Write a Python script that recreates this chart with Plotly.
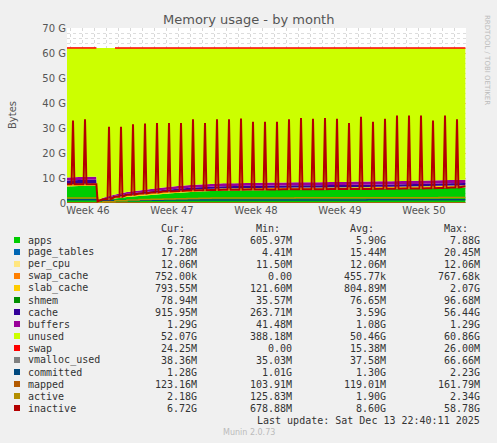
import plotly.graph_objects as go
import numpy as np

# time in days from start of graph
times = [0, 1, 2, 2.45, 2.55] + list(range(3, 33)) + [33.2]
apps = [6.6, 6.8, 6.9, 6.9, 0.5, 1.0, 1.8, 2.4, 2.8, 3.2, 3.6, 4.0, 4.3, 4.6, 4.8, 5.0,
        5.0, 5.1, 5.1, 5.2, 5.2, 5.3, 5.3, 5.3, 5.4, 5.4, 5.5, 5.5, 5.6, 5.6, 5.7, 5.8, 5.9, 6.0, 6.1, 6.2]
slab = [0.8, 0.8, 0.8, 0.8, 0.12, 0.3, 0.45, 0.55, 0.6, 0.65, 0.7, 0.72, 0.74, 0.75, 0.76, 0.77,
        0.78, 0.78, 0.79, 0.79, 0.8, 0.8, 0.8, 0.8, 0.8, 0.8, 0.8, 0.8, 0.8, 0.8, 0.8, 0.8, 0.8, 0.8, 0.8, 0.8]
cache = [1.5, 1.5, 1.5, 1.5, 0.26, 0.4, 0.5, 0.6, 0.7, 0.75, 0.8, 0.82, 0.84, 0.85, 0.86, 0.87,
         0.88, 0.88, 0.89, 0.89, 0.9, 0.9, 0.9, 0.9, 0.9, 0.9, 0.9, 0.9, 0.9, 0.9, 0.9, 0.9, 0.92, 0.92, 0.92, 0.92]
buffers = [1.2, 1.2, 1.2, 1.2, 0.04, 0.3, 0.5, 0.7, 0.8, 0.9, 1.0, 1.05, 1.1, 1.1, 1.12, 1.15,
           1.15, 1.17, 1.18, 1.2, 1.2, 1.2, 1.22, 1.22, 1.23, 1.24, 1.25, 1.25, 1.26, 1.27, 1.27, 1.28, 1.28, 1.29, 1.29, 1.29]
page_tables = 0.017
per_cpu = 0.012
swap_cache = 0.0007
shmem = 0.079
swap = [0.025, 0.025, 0.025, 0.025, 0, 0, 0.02, 0.02, 0.02, 0.02, 0.02, 0.02, 0.02, 0.02, 0.02, 0.02,
        0.024, 0.024, 0.024, 0.024, 0.024, 0.024, 0.024, 0.024, 0.024, 0.024, 0.024, 0.024, 0.024, 0.024, 0.024, 0.024, 0.024, 0.024, 0.024, 0.024]
total_mem = 62.0
committed = [1.3, 1.3, 1.3, 1.3, 1.0, 1.0, 1.0, 1.05, 1.1, 1.1, 1.2, 1.2, 1.2, 1.25, 1.25, 1.25,
             1.25, 1.25, 1.25, 1.25, 1.25, 1.25, 1.25, 1.25, 1.25, 1.25, 1.25, 1.28, 1.28, 1.28, 1.28, 1.28, 1.28, 1.28, 1.28, 1.28]
active = [2.0, 2.0, 2.0, 2.0, 0.13, 0.5, 0.9, 1.2, 1.4, 1.5, 1.6, 1.7, 1.8, 1.9, 2.0, 2.0,
          2.0, 2.0, 2.0, 2.0, 2.0, 2.1, 2.1, 2.1, 2.1, 2.1, 2.1, 2.1, 2.1, 2.1, 2.15, 2.15, 2.15, 2.18, 2.18, 2.18]
mapped = 0.12
vmalloc = 0.038
inactive_base = [7.5, 7.5, 7.5, 7.5, 0.7, 1.5, 2.5, 3.3, 3.8, 4.2, 4.6, 4.8, 5.0, 5.1, 5.2, 5.3,
                 5.3, 5.4, 5.4, 5.4, 5.5, 5.5, 5.5, 5.5, 5.6, 5.6, 5.6, 5.6, 5.7, 5.7, 5.8, 5.8, 5.9, 6.0, 6.2, 6.7]
peak_days = [0, 1] + list(range(3, 33))
peak_vals = [33, 33.5, 30.5, 30.5, 31.5, 31.8, 32, 32, 32, 33.5, 32, 33.5, 33.5, 33.8, 32.5, 32.5,
             32.5, 33.5, 34, 33.7, 34, 33.7, 32, 34.5, 32.5, 33.7, 35, 35, 35, 33, 35, 33.5]

week_labels = ["Week 46", "Week 47", "Week 48", "Week 49", "Week 50"]
week_pos = [1.75, 8.75, 15.75, 22.75, 29.75]

t = np.array(times, float)
n = len(t)
def arr(v):
    return np.full(n, v) if np.isscalar(v) else np.array(v, float)

stack = [("apps", arr(apps), "#00cc00"), ("page_tables", arr(page_tables), "#0066b3"),
         ("per_cpu", arr(per_cpu), "#ffe680"), ("swap_cache", arr(swap_cache), "#ff8000"),
         ("slab_cache", arr(slab), "#ffcc00"), ("shmem", arr(shmem), "#008f00"),
         ("cache", arr(cache), "#330099"), ("buffers", arr(buffers), "#990099")]
used = sum(s[1] for s in stack)
unused = total_mem - used
stack.append(("unused", unused, "#ccff00"))

fig = go.Figure()
for name, y, c in stack:
    fig.add_trace(go.Scatter(x=t, y=y, stackgroup="one", mode="none", fillcolor=c, line=dict(width=0), name=name))
sw = np.array(swap)
top = np.where(sw > 0, total_mem + sw, np.nan)
fig.add_trace(go.Scatter(x=t, y=top, mode="lines", line=dict(color="#ff0000", width=1.5)))

# inactive with daily spikes
ix, iy = list(t), list(inactive_base)
for d, p in zip(peak_days, peak_vals):
    b = inactive_base[times.index(d)]
    ix += [d + 0.38, d + 0.5, d + 0.62]
    iy += [b, p, b]
order = np.argsort(ix)
ix = np.array(ix)[order]; iy = np.array(iy)[order]
for y, c, w in [(arr(vmalloc), "#808080", 1), (arr(committed), "#00487d", 1.5),
                (arr(mapped), "#b35a00", 1), (arr(active), "#b38f00", 1.5)]:
    fig.add_trace(go.Scatter(x=t, y=y, mode="lines", line=dict(color=c, width=w, shape="hv")))
fig.add_trace(go.Scatter(x=ix, y=iy, mode="lines", line=dict(color="#b30000", width=2)))

L, T, PW, PH = 67, 28, 399, 175
def px(x): return (x - L) / PW
def py(y): return (T + PH - y) / PH

ann = []
mono = "DejaVu Sans Mono"
rows = [("apps", "#00cc00", "6.78G", "605.97M", "5.90G", "7.88G"),
        ("page_tables", "#0066b3", "17.28M", "4.41M", "15.44M", "20.45M"),
        ("per_cpu", "#ffe680", "12.06M", "11.50M", "12.06M", "12.06M"),
        ("swap_cache", "#ff8000", "752.00k", "0.00", "455.77k", "767.68k"),
        ("slab_cache", "#ffcc00", "793.55M", "121.60M", "804.89M", "2.07G"),
        ("shmem", "#008f00", "78.94M", "35.57M", "76.65M", "96.68M"),
        ("cache", "#330099", "915.95M", "263.71M", "3.59G", "56.44G"),
        ("buffers", "#990099", "1.29G", "41.48M", "1.08G", "1.29G"),
        ("unused", "#ccff00", "52.07G", "388.18M", "50.46G", "60.86G"),
        ("swap", "#ff0000", "24.25M", "0.00", "15.38M", "26.00M"),
        ("vmalloc_used", "#808080", "38.36M", "35.03M", "37.58M", "66.66M"),
        ("committed", "#00487d", "1.28G", "1.01G", "1.30G", "2.23G"),
        ("mapped", "#b35a00", "123.16M", "103.91M", "119.01M", "161.79M"),
        ("active", "#b38f00", "2.18G", "125.83M", "1.90G", "2.34G"),
        ("inactive", "#b30000", "6.72G", "678.88M", "8.60G", "58.78G")]
cols = [199, 294, 388, 482]
fnt = dict(family=mono, size=10, color="#333")
def A(x, y, text, **kw):
    d = dict(x=px(x), y=py(y), text=text, showarrow=False, xref="paper", yref="paper", yanchor="middle")
    d.update(kw)
    ann.append(d)
for j, h in enumerate(["Cur:", "Min:", "Avg:", "Max:"]):
    A(cols[j] - 12, 228, h, xanchor="right", font=fnt)
shapes = []
for i, r in enumerate(rows):
    yy = 240 + 12 * i
    shapes.append(dict(type="rect", xref="paper", yref="paper", x0=px(14), x1=px(20), y0=py(yy - 3), y1=py(yy + 3), fillcolor=r[1], line=dict(width=0)))
    A(26, yy, r[0], xanchor="left", font=fnt)
    for j in range(4):
        A(cols[j], yy, r[2 + j], xanchor="right", font=fnt)
A(482, 420, "Last update: Sat Dec 13 22:40:11 2025", xanchor="right", font=fnt)
A(249, 432, "Munin 2.0.73", xanchor="center", font=dict(family="DejaVu Sans", size=8, color="#bbb"))
A(487, 60, "RRDTOOL / TOBI OETIKER", textangle=90, xanchor="center", font=dict(family="DejaVu Sans", size=7, color="#bbb"))
A(248, 19, "Memory usage - by month", xanchor="center", font=dict(family="DejaVu Sans", size=13, color="#555"))
A(12, 115, "Bytes", textangle=-90, xanchor="center", font=dict(family="DejaVu Sans", size=10, color="#555"))

fig.update_layout(width=497, height=443, margin=dict(l=L, r=497 - L - PW, t=T, b=443 - T - PH),
                  paper_bgcolor="#f0f0f0", plot_bgcolor="#ffffff", showlegend=False,
                  annotations=ann, shapes=shapes)
fig.update_xaxes(range=[0, 33.25], tickvals=week_pos, ticktext=week_labels, showgrid=False,
                 zeroline=False, showline=False,
                 tickfont=dict(family="DejaVu Sans", size=10, color="#555"), ticks="", ticklen=2,
                 minor=dict(tick0=0.25, dtick=1, showgrid=True, gridcolor="#d8d8d8", griddash="dot"))
fig.update_yaxes(range=[0, 70], tickvals=[0, 10, 20, 30, 40, 50, 60, 70],
                 ticktext=["0", "10 G", "20 G", "30 G", "40 G", "50 G", "60 G", "70 G"],
                 showgrid=True, gridcolor="#f0a0a0", griddash="dot", zeroline=False,
                 tickfont=dict(family="DejaVu Sans", size=10, color="#555"), ticks="",
                 minor=dict(dtick=2, showgrid=True, gridcolor="#dddddd", griddash="dot"))
fig.write_html("out.html", config={"displayModeBar": False},
               post_script="document.body.style.margin='0';document.body.style.background='#f0f0f0';")
